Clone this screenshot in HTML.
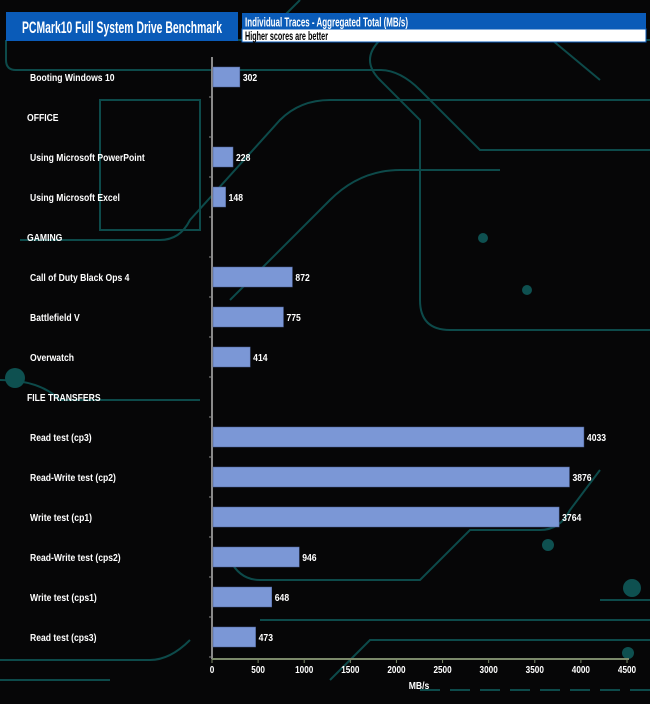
<!DOCTYPE html>
<html><head><meta charset="utf-8"><style>
body{margin:0;background:#050505;}
svg{display:block;font-family:"Liberation Sans",Arial,sans-serif;}
</style></head><body>
<svg id="c" width="650" height="704" viewBox="0 0 650 704">
<rect width="650" height="704" fill="#060607"/>
<g fill="none" stroke="#0d4a4a" stroke-width="2">
<path d="M6 40 V60 Q6 70 16 70 H380 Q400 70 420 90 L480 150 H650"/>
<path d="M100 100 H200 V230 H100 Z"/>
<path d="M20 240 H160 Q180 240 190 220 L280 120 Q300 100 330 100 H650"/>
<path d="M300 0 L260 40 H210"/>
<path d="M380 40 Q360 60 380 80 L420 120 V300 Q420 330 450 330 H650"/>
<path d="M230 300 L330 200 Q360 170 400 170 H500"/>
<path d="M230 560 Q240 580 260 580 H420 L470 530 H540 Q560 530 570 510 L600 470"/>
<path d="M260 620 H650"/>
<path d="M0 660 H150 Q170 660 190 640"/>
<path d="M0 680 H110"/>
<path d="M330 680 L370 640 H650"/>
<path d="M420 690 H650" stroke-dasharray="20 10"/>
<path d="M600 600 H650"/>
<path d="M520 40 H650 M540 30 L600 80"/>
<path d="M0 380 Q40 380 60 400 H200"/>
</g>
<g fill="#0e5050">
<circle cx="483" cy="238" r="5"/><circle cx="527" cy="290" r="5"/><circle cx="632" cy="588" r="9"/><circle cx="628" cy="653" r="6"/><circle cx="548" cy="545" r="6"/><circle cx="15" cy="378" r="10"/>
</g>
<rect x="6" y="12" width="232" height="29" fill="#0a5bb8"/>
<text x="22" y="33" fill="#fff" font-size="16.5" font-weight="bold" textLength="200" lengthAdjust="spacingAndGlyphs">PCMark10 Full System Drive Benchmark</text>
<rect x="242" y="13" width="404" height="16" fill="#0a5bb8"/>
<rect x="242" y="29" width="404" height="13" fill="#fff" stroke="#0a5bb8"/>
<text x="245" y="26.5" fill="#fff" font-size="13" font-weight="bold" textLength="163" lengthAdjust="spacingAndGlyphs">Individual Traces - Aggregated Total (MB/s)</text>
<text x="245" y="40" fill="#000" font-size="11.5" font-weight="bold" textLength="83" lengthAdjust="spacingAndGlyphs">Higher scores are better</text>
<g id="plot"></g>
</svg>
<script>
const categories=["Booting Windows 10","OFFICE","Using Microsoft PowerPoint","Using Microsoft Excel","GAMING","Call of Duty Black Ops 4","Battlefield V","Overwatch","FILE TRANSFERS","Read test (cp3)","Read-Write test (cp2)","Write test (cp1)","Read-Write test (cps2)","Write test (cps1)","Read test (cps3)"];
const values=[302,null,228,148,null,872,775,414,null,4033,3876,3764,946,648,473];
const xTicks=[0,500,1000,1500,2000,2500,3000,3500,4000,4500];
const NS="http://www.w3.org/2000/svg";
const g=document.getElementById('plot');
const x0=212,x1=627,xMax=4500,yTop=57,rowH=40,firstY=77;
const xs=v=>x0+v/xMax*(x1-x0);
const ys=i=>firstY+i*rowH;
function mk(t,a,txt){const e=document.createElementNS(NS,t);for(const k in a)e.setAttribute(k,a[k]);if(txt!=null)e.textContent=txt;g.appendChild(e);return e;}
function tx(x,y,s,a){a.x=0;a.y=0;a.transform=`translate(${x},${y}) scale(0.82,1)`;return mk('text',a,s);}
let e;
e=mk('line',{x1:x0,y1:yTop,x2:x0,y2:659,stroke:'#8a8a8a','stroke-width':2});

categories.forEach((c,i)=>{
 const y=ys(i);
 const t=tx(c===c.toUpperCase()?27:30,y+4,c,{fill:'#fff','font-size':'10.5','font-weight':'bold'});
 
 const tk=mk('line',{x1:x0-3,y1:y+20,x2:x0,y2:y+20,stroke:'#8a8a8a','stroke-width':1});
 
 if(values[i]!=null){
  const b=mk('rect',{x:x0+1,y:y-10,width:xs(values[i])-x0-1,height:20,fill:'#7b97d6',stroke:'#4a5e95','stroke-width':0.5});
  
  const v=tx(xs(values[i])+3,y+4,String(values[i]),{fill:'#fff','font-size':'10.5','font-weight':'bold'});
  
 }
});
e=mk('line',{x1:x0,y1:659,x2:x1+2,y2:659,stroke:'#7c8a6a','stroke-width':2});

xTicks.forEach(v=>{
 const tk=mk('line',{x1:xs(v),y1:659,x2:xs(v),y2:663,stroke:'#7c8a6a','stroke-width':1});
 
 const t=tx(xs(v),673,String(v),{fill:'#fff','font-size':'10','font-weight':'bold','text-anchor':'middle'});
 
});
e=tx(419,689,'MB/s',{fill:'#fff','font-size':'10.5','font-weight':'bold','text-anchor':'middle'});

</script>
</body></html>
